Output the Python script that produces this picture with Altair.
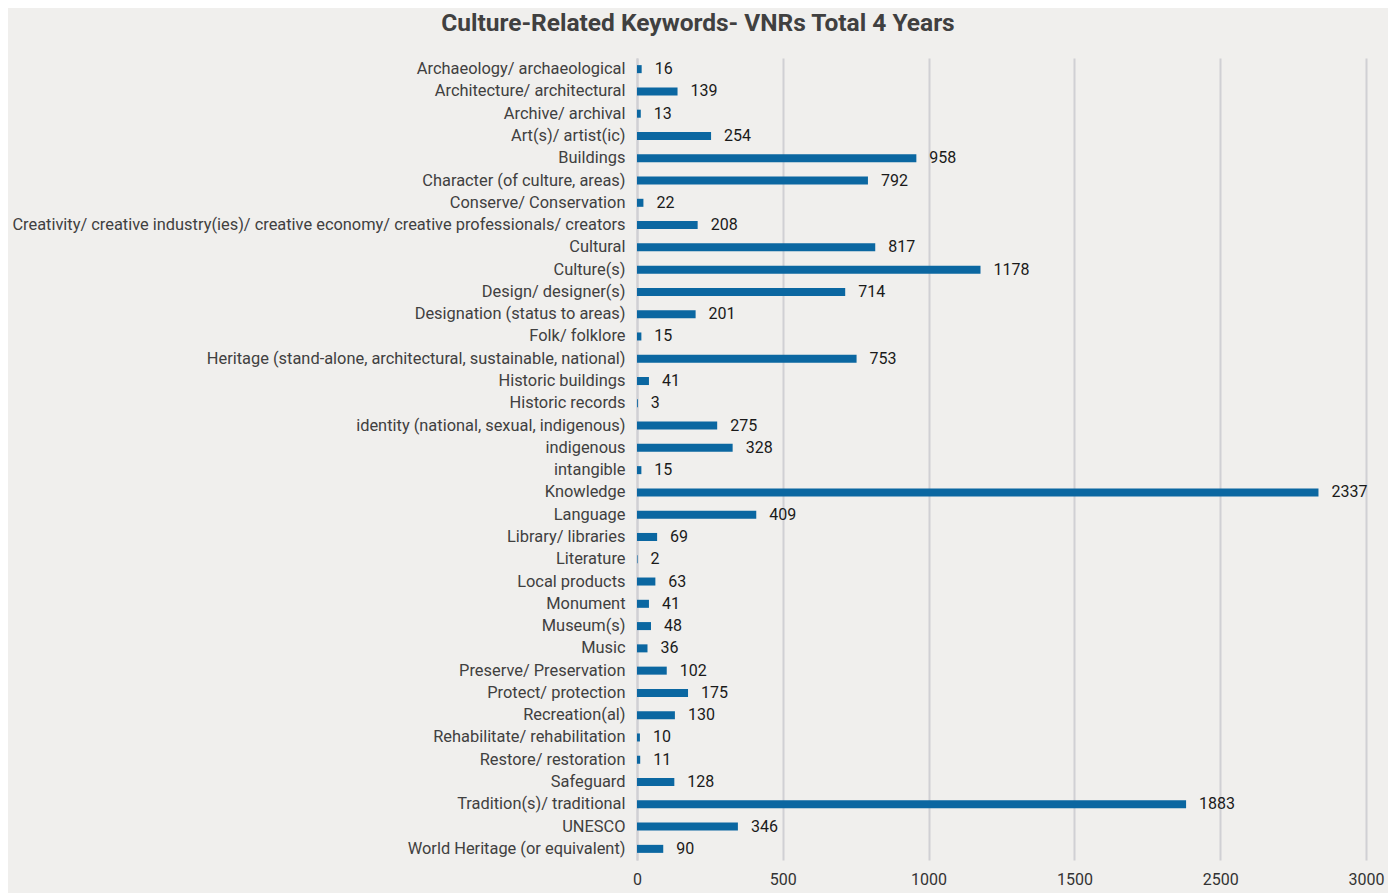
import altair as alt
import pandas as pd

keywords = [
    "Archaeology/ archaeological",
    "Architecture/ architectural",
    "Archive/ archival",
    "Art(s)/ artist(ic)",
    "Buildings",
    "Character (of culture, areas)",
    "Conserve/ Conservation",
    "Creativity/ creative industry(ies)/ creative economy/ creative professionals/ creators",
    "Cultural",
    "Culture(s)",
    "Design/ designer(s)",
    "Designation (status to areas)",
    "Folk/ folklore",
    "Heritage (stand-alone, architectural, sustainable, national)",
    "Historic buildings",
    "Historic records",
    "identity (national, sexual, indigenous)",
    "indigenous",
    "intangible",
    "Knowledge",
    "Language",
    "Library/ libraries",
    "Literature",
    "Local products",
    "Monument",
    "Museum(s)",
    "Music",
    "Preserve/ Preservation",
    "Protect/ protection",
    "Recreation(al)",
    "Rehabilitate/ rehabilitation",
    "Restore/ restoration",
    "Safeguard",
    "Tradition(s)/ traditional",
    "UNESCO",
    "World Heritage (or equivalent)",
]
counts = [16, 139, 13, 254, 958, 792, 22, 208, 817, 1178, 714, 201, 15, 753, 41, 3,
          275, 328, 15, 2337, 409, 69, 2, 63, 41, 48, 36, 102, 175, 130, 10, 11, 128,
          1883, 346, 90]

tick_values = [0, 500, 1000, 1500, 2000, 2500]
tick_labels = ["0", "500", "1000", "1500", "2500", "3000"]

label_expr = "''"
for v, l in reversed(list(zip(tick_values, tick_labels))):
    label_expr = f"datum.value == {v} ? '{l}' : ({label_expr})"

df = pd.DataFrame({"keyword": keywords, "count": counts})

FONT = "Roboto"

base = alt.Chart(df).encode(
    y=alt.Y(
        "keyword:N",
        sort=None,
        title=None,
        scale=alt.Scale(paddingInner=0.64, paddingOuter=0.32),
        axis=alt.Axis(
            ticks=False,
            labelPadding=12,
            labelFontSize=16.4,
            labelColor="#404040",
            labelFont=FONT,
            domainColor="#d0d0d4",
            domainWidth=2,
            labelLimit=800,
        ),
    ),
    x=alt.X(
        "count:Q",
        title=None,
        scale=alt.Scale(domain=[0, 2500], nice=False),
        axis=alt.Axis(
            values=tick_values,
            labelExpr=label_expr,
            labelFlush=False,
            domain=False,
            ticks=False,
            grid=True,
            gridColor="#d0d0d4",
            gridWidth=2,
            labelFontSize=16,
            labelColor="#333333",
            labelFont=FONT,
            labelPadding=11,
        ),
    ),
)

bars = base.mark_bar(color="#0b67a1")
text = base.mark_text(align="left", baseline="middle", dx=13, fontSize=16,
                      color="#1a1a1a", font=FONT).encode(text="count:Q")

chart = (
    (bars + text)
    .properties(
        width=729,
        height=802,
        background="#f0efed",
        padding={"left": 629, "top": 50, "right": 22, "bottom": 33},
        autosize=alt.AutoSizeParams(type="none"),
        title=alt.TitleParams(
            "Culture-Related Keywords- VNRs Total 4 Years",
            fontSize=24.5,
            fontWeight="bold",
            color="#404040",
            font=FONT,
            anchor="middle",
            frame="bounds",
            offset=22,
        ),
    )
    .configure_view(stroke=None)
)

chart.save("out.html", embed_options={"renderer": "svg", "actions": False})
